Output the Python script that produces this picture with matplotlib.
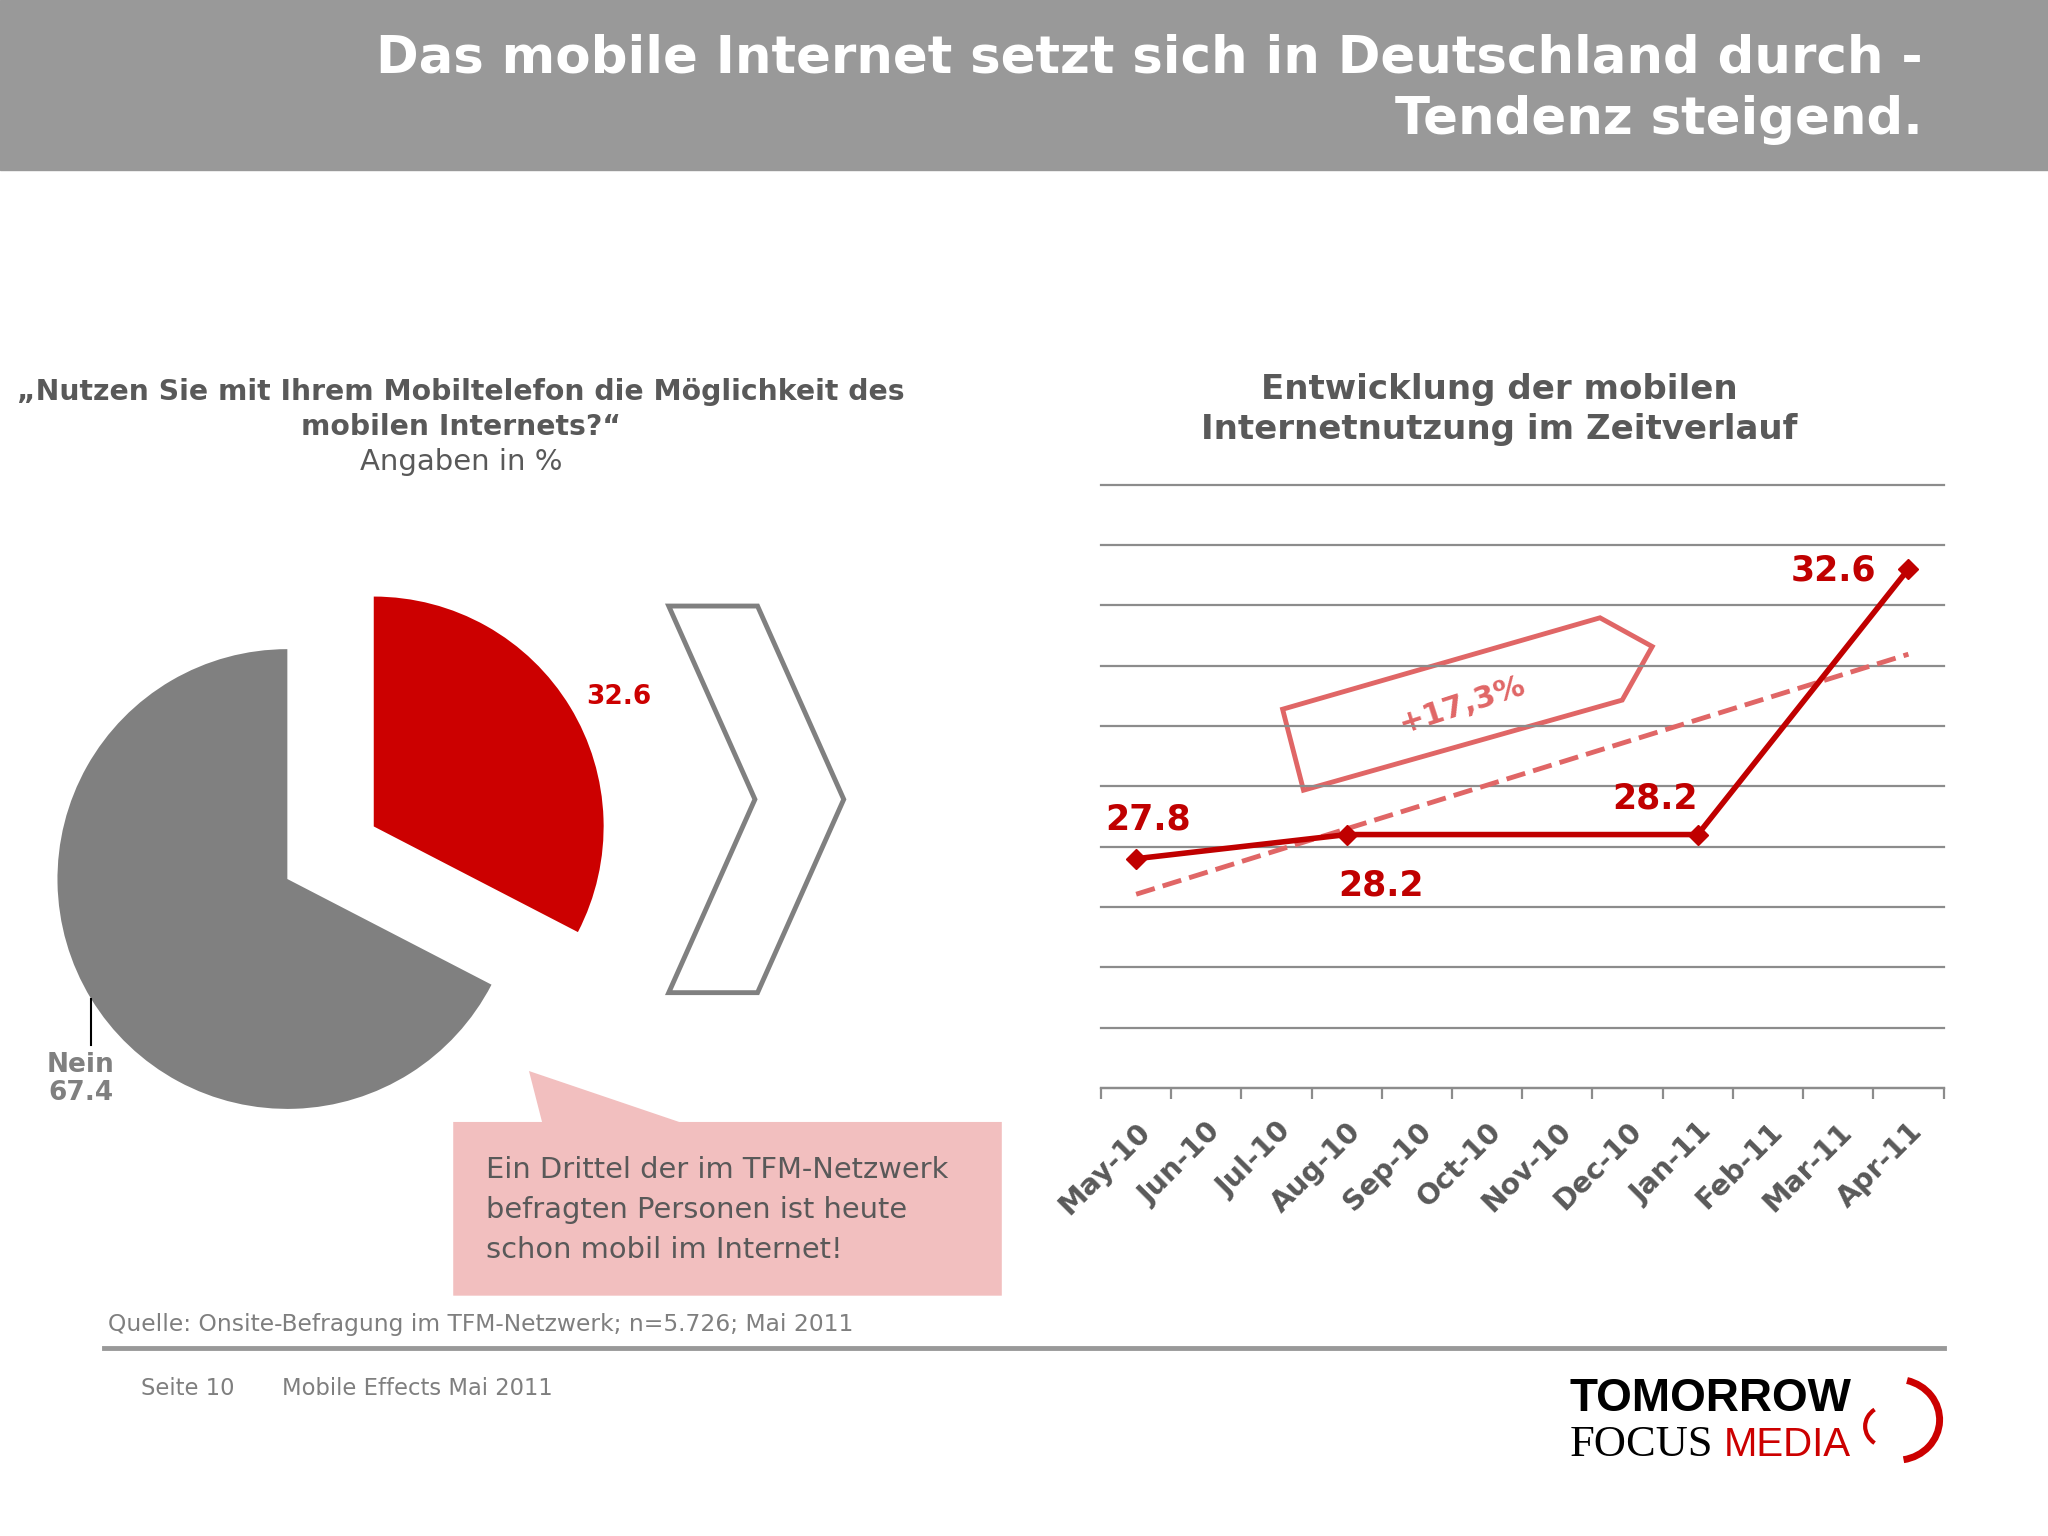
import numpy as np
import matplotlib.pyplot as plt
from matplotlib.patches import Polygon, Rectangle, Arc

# Daten
pie_labels = ['Ja', 'Nein']
pie_values = [32.6, 67.4]

months = ['May-10', 'Jun-10', 'Jul-10', 'Aug-10', 'Sep-10', 'Oct-10',
          'Nov-10', 'Dec-10', 'Jan-11', 'Feb-11', 'Mar-11', 'Apr-11']
usage = [27.8, np.nan, np.nan, 28.2, np.nan, np.nan,
         np.nan, np.nan, 28.2, np.nan, np.nan, 32.6]

RED = '#C00000'
PIE_RED = '#CC0000'
GRAY = '#808080'
TXT = '#595959'
LIGHT_RED = '#E06666'

W, H = 1568, 1176  # Layout in Pixeln der Vorlage

fig = plt.figure(figsize=(20.48, 15.36), dpi=100)

# Hintergrund-Achse in Pixelkoordinaten
bg = fig.add_axes([0, 0, 1, 1], zorder=0)
bg.set_xlim(0, W)
bg.set_ylim(H, 0)
bg.axis('off')

def box(x0, y0, x1, y1):
    # Pixel-Rechteck -> Figure-Anteile
    return [x0 / W, 1 - y1 / H, (x1 - x0) / W, (y1 - y0) / H]

# Kopfzeile
bg.add_patch(Rectangle((0, 0), W, 130, color='#999999'))
bg.text(1472, 45, 'Das mobile Internet setzt sich in Deutschland durch -',
        ha='right', va='center', color='white', fontsize=37, fontweight='bold')
bg.text(1472, 92, 'Tendenz steigend.', ha='right', va='center',
        color='white', fontsize=37, fontweight='bold')

# Linke Seite: Frage
bg.text(353, 300, '„Nutzen Sie mit Ihrem Mobiltelefon die Möglichkeit des',
        ha='center', va='center', color=TXT, fontsize=20.3, fontweight='bold')
bg.text(353, 327, 'mobilen Internets?“', ha='center', va='center',
        color=TXT, fontsize=20.3, fontweight='bold')
bg.text(353, 354, 'Angaben in %', ha='center', va='center',
        color=TXT, fontsize=21)

# Tortendiagramm
pax = fig.add_axes(box(20, 430, 500, 880), zorder=2)
cx, cy, r = 220, H - 673, 176
wedges, texts = pax.pie(pie_values, labels=['32.6', ''], colors=[PIE_RED, GRAY],
                        explode=[0.44 * r, 0], startangle=90, counterclock=False,
                        center=(cx, cy), radius=r, labeldistance=1.08,
                        textprops=dict(color=PIE_RED, fontsize=19, fontweight='bold'))
pax.set_xlim(20, 500)
pax.set_ylim(H - 880, H - 430)
pax.set_aspect('equal')
pax.axis('off')
pax.text(62, H - 826, 'Nein\n67.4', ha='center', va='center', color=GRAY,
         fontsize=19, fontweight='bold', linespacing=1.1)
pax.plot([70, 70], [H - 765, H - 800], color='black', lw=1.5)

# Pfeil (Chevron)
bg.add_patch(Polygon([(512, 464), (580, 464), (646, 612), (580, 760),
                      (512, 760), (578, 612)], closed=True,
                     facecolor='white', edgecolor=GRAY, lw=3.5))

# Sprechblase
bg.add_patch(Polygon([(347, 859), (415, 859), (405, 820), (520, 859),
                      (767, 859), (767, 992), (347, 992)], closed=True,
                     facecolor='#F2BFBF', edgecolor='none'))
for i, line in enumerate(['Ein Drittel der im TFM-Netzwerk',
                          'befragten Personen ist heute',
                          'schon mobil im Internet!']):
    bg.text(372, 896 + i * 30.5, line, ha='left', va='center',
            color=TXT, fontsize=20.8)

# Rechte Seite: Linienchart
bg.text(1148, 298, 'Entwicklung der mobilen', ha='center', va='center',
        color=TXT, fontsize=24.5, fontweight='bold')
bg.text(1148, 329, 'Internetnutzung im Zeitverlauf', ha='center', va='center',
        color=TXT, fontsize=24.5, fontweight='bold')

ax = fig.add_axes(box(843, 371, 1488, 833), zorder=2)
ax.patch.set_alpha(0)
x = np.arange(len(months))
y = np.array(usage)
ok = ~np.isnan(y)

# Trendlinie (lineare Regression)
k, d = np.polyfit(x[ok], y[ok], 1)
ax.plot(x[[0, -1]], k * x[[0, -1]] + d, color=LIGHT_RED, lw=3.5,
        ls=(0, (4, 1.7)), zorder=3)
ax.plot(x[ok], y[ok], color=RED, lw=4, marker='D', markersize=10, zorder=4)

ax.set_xlim(-0.5, 11.5)
ax.set_ylim(24, 34)
ax.set_yticks(np.arange(24, 35, 1))
ax.set_yticklabels([])
ax.tick_params(axis='y', length=0)
ax.grid(axis='y', color='#8c8c8c', lw=1.6)
for gl in ax.get_ygridlines():
    gl.set_clip_on(False)
for s in ['top', 'left', 'right']:
    ax.spines[s].set_visible(False)
ax.spines['bottom'].set_color('#8c8c8c')
ax.spines['bottom'].set_linewidth(1.6)
ax.set_xticks(np.arange(-0.5, 12, 1))
ax.set_xticklabels([])
ax.tick_params(axis='x', which='major', length=8, width=1.6, color='#8c8c8c')
ax.set_xticks(x, minor=True)
ax.set_xticklabels(months, minor=True, rotation=45, ha='right',
                   rotation_mode='anchor', color=TXT, fontsize=20.5,
                   fontweight='bold')
ax.tick_params(axis='x', which='minor', length=0, pad=21)

lab_kw = dict(color=RED, fontsize=25, fontweight='bold', ha='center', va='center')
ax.annotate('27.8', (0, 27.8), xytext=(8.5, 28), textcoords='offset points', **lab_kw)
ax.annotate('28.2', (3, 28.2), xytext=(25, -37), textcoords='offset points', **lab_kw)
ax.annotate('28.2', (8, 28.2), xytext=(-31, 26), textcoords='offset points', **lab_kw)
ax.annotate('32.6', (11, 32.6), xytext=(-54, -1), textcoords='offset points', **lab_kw)

# +17,3% Pfeilkasten
bg.add_patch(Polygon([(982, 543), (1225, 473), (1265, 495), (1242, 536),
                      (998, 605)], closed=True, facecolor='none',
                     edgecolor=LIGHT_RED, lw=3.5, zorder=3))
bg.text(1120, 540, '+17,3%', ha='center', va='center', rotation=18,
        color=LIGHT_RED, fontsize=22, fontweight='bold')

# Quelle und Fusszeile
bg.text(83, 1014, 'Quelle: Onsite-Befragung im TFM-Netzwerk; n=5.726; Mai 2011',
        ha='left', va='center', color='#7f7f7f', fontsize=16.8)
bg.plot([80, 1488], [1032, 1032], color='#999999', lw=3.5)
bg.text(108, 1063, 'Seite 10', ha='left', va='center', color='#7f7f7f', fontsize=16.3)
bg.text(216, 1063, 'Mobile Effects Mai 2011', ha='left', va='center',
        color='#7f7f7f', fontsize=16.3)

# Logo
bg.text(1202, 1071, 'TOMORROW', ha='left', va='center', color='black',
        fontsize=33, fontweight='bold', family='Liberation Sans')
bg.text(1202, 1106, 'FOCUS', ha='left', va='center', color='black',
        fontsize=32, family='Liberation Serif')
bg.text(1320, 1106, 'MEDIA', ha='left', va='center', color=PIE_RED,
        fontsize=29, family='Liberation Sans')
bg.add_patch(Arc((1452, 1087), 66, 62, theta1=-75, theta2=80,
                 color=PIE_RED, lw=5))
bg.add_patch(Arc((1446, 1092), 36, 32, theta1=130, theta2=230,
                 color=PIE_RED, lw=3))

fig.savefig('out.png', dpi=100)
